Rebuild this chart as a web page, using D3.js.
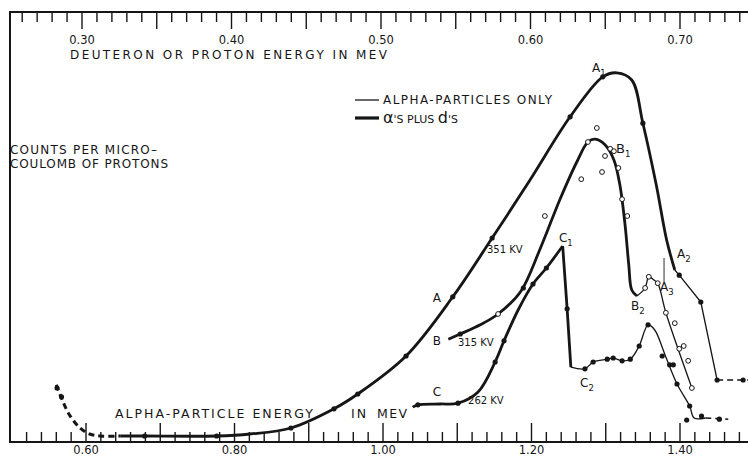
<!DOCTYPE html>
<html>
<head>
<meta charset="utf-8">
<script src="https://cdn.jsdelivr.net/npm/d3@7"></script>
<style>
  body { margin: 0; background: #fff; }
  svg { display: block; font-family: 'DejaVu Sans', sans-serif; }
</style>
</head>
<body>
<svg id="chart" width="748" height="457"></svg>
<script>
// Values: [alpha-particle energy (MeV), counts (relative)]

// curve A, 351 kV
const curveAStart = [[0.560, 12.8], [0.568, 9.0], [0.578, 5.2], [0.592, 2.0], [0.605, 0.5], [0.619, 0], [0.646, 0]];
const curveA = [[0.646, 0], [0.679, 0], [0.776, 0], [0.821, 0.5], [0.876, 2.0], [0.934, 6.8], [0.966, 10.5],
  [1.031, 20.0], [1.094, 34.8], [1.147, 49.5], [1.198, 64.0], [1.252, 79.8], [1.296, 89.8], [1.315, 90.8],
  [1.335, 89.0], [1.350, 78.2], [1.368, 62.8], [1.382, 49.0], [1.393, 41.5]];
const curveAThin = [[1.393, 41.5], [1.399, 40.2], [1.428, 33.5], [1.450, 14.0]];
const curveATail = [[1.450, 14.0], [1.494, 14.0]];
const dotsA = [[0.561, 12.0], [0.567, 9.8], [0.679, 0], [0.776, 0], [0.876, 2.0], [0.934, 6.8], [0.966, 10.5],
  [1.031, 20.0], [1.094, 34.8], [1.147, 49.5], [1.252, 79.8], [1.296, 89.8], [1.350, 78.2],
  [1.399, 40.2], [1.428, 33.5], [1.450, 14.0], [1.485, 14.0]];

// curve B, 315 kV
const curveB = [[1.088, 24.2], [1.104, 25.5], [1.131, 27.8], [1.155, 30.5], [1.185, 36.0], [1.211, 46.5],
  [1.238, 59.0], [1.261, 68.5], [1.276, 73.5], [1.286, 74.2], [1.299, 72.8], [1.311, 69.0], [1.319, 62.8],
  [1.326, 52.8], [1.331, 42.8], [1.335, 36.5], [1.342, 35.0]];
const curveBThin = [[1.342, 35.0], [1.353, 37.0], [1.358, 39.8], [1.365, 39.0], [1.370, 38.2], [1.381, 30.8], [1.416, 12.0]];
const openB = [[1.155, 30.5], [1.218, 55.0], [1.267, 64.2], [1.276, 73.5], [1.288, 77.0], [1.295, 66.0],
  [1.299, 70.0], [1.306, 71.8], [1.311, 71.2], [1.317, 67.0], [1.322, 59.2], [1.329, 55.0],
  [1.353, 37.0], [1.358, 39.8], [1.370, 38.2], [1.381, 30.8], [1.393, 28.2], [1.399, 21.8],
  [1.405, 22.5], [1.411, 18.8], [1.416, 12.0]];
const dotsB = [[1.104, 25.5], [1.189, 37.0]];

// curve C, 262 kV
const curveC = [[1.040, 7.2], [1.047, 7.8], [1.077, 8.0], [1.101, 8.2], [1.128, 11.0], [1.151, 18.5],
  [1.163, 23.8], [1.182, 31.5], [1.202, 38.0], [1.220, 42.0], [1.242, 47.5]];
const curveCDrop = [[1.242, 47.5], [1.248, 31.8], [1.253, 17.2]];
const curveCThin = [[1.253, 17.2], [1.272, 16.8], [1.283, 18.5], [1.302, 19.2], [1.310, 19.5], [1.322, 18.8],
  [1.333, 19.2], [1.345, 22.5], [1.357, 27.8], [1.366, 26.5], [1.380, 20.2], [1.396, 13.0], [1.413, 7.5],
  [1.419, 4.5], [1.434, 4.5]];
const curveCTail = [[1.434, 4.5], [1.465, 4.2]];
const dotsC = [[1.047, 7.8], [1.101, 8.2], [1.151, 18.5], [1.163, 23.8], [1.202, 38.0], [1.220, 42.0],
  [1.248, 31.8], [1.272, 16.8], [1.283, 18.5], [1.302, 19.2], [1.310, 19.5], [1.322, 18.8], [1.333, 19.2],
  [1.345, 22.5], [1.357, 27.8], [1.376, 20.0], [1.386, 17.8], [1.391, 17.8], [1.396, 13.0], [1.413, 7.5],
  [1.409, 4.0], [1.429, 5.0], [1.453, 4.2]];

// axes
const bottomTicks = d3.range(26, 75).map((i) => i / 50);   // every 0.02
const bottomLabels = [0.60, 0.80, 1.00, 1.20, 1.40];
const topTicks = d3.range(26, 75).map((i) => i / 100);     // every 0.01
const topLabels = [0.30, 0.40, 0.50, 0.60, 0.70];

// labels on the curves: [text, subscript, energy, counts]
const curveLabels = [
  ['A', '', 1.067, 33.5], ['B', '', 1.067, 22.75], ['C', '', 1.067, 10.0],
  ['A', '1', 1.2815, 91.0], ['B', '1', 1.3138, 70.75], ['B', '2', 1.334, 31.5],
  ['A', '2', 1.396, 44.5], ['A', '3', 1.373, 36.25], ['C', '1', 1.237, 48.5], ['C', '2', 1.2653, 12.25]
];
const voltLabels = [['351 KV', 1.140, 45.75], ['315 KV', 1.101, 22.5], ['262 KV', 1.1145, 8.0]];

(function() {
  let svg = d3.select('#chart');
  let ink = '#161616';

  let x = d3.scaleLinear().domain([0.6, 1.4]).range([86, 680]);
  let xTop = d3.scaleLinear().domain([0.3, 0.7]).range([82, 680]);
  let y = d3.scaleLinear().domain([0, 100]).range([436, 36]);

  let left = 10, top = 12, bottom = 442, right = 748;

  //
  // Frame
  //
  let frame = svg.append('g').attr('stroke', ink).attr('stroke-width', 2);
  frame.append('line').attr('x1', left).attr('x2', left).attr('y1', top - 1).attr('y2', bottom + 1);
  frame.append('line').attr('x1', left).attr('x2', right).attr('y1', top).attr('y2', top);
  frame.append('line').attr('x1', left).attr('x2', right).attr('y1', bottom).attr('y2', bottom);

  //
  // Bottom axis: alpha-particle energy
  //
  svg.append('g').selectAll('line')
    .data(bottomTicks)
    .enter().append('line')
      .attr('x1', (d) => x(d)).attr('x2', (d) => x(d))
      .attr('y1', bottom)
      .attr('y2', (d) => Math.round(d * 100) % 10 === 0 ? bottom - 19 : bottom - 10)
      .attr('stroke', ink).attr('stroke-width', 1.4);

  svg.append('g').selectAll('text')
    .data(bottomLabels)
    .enter().append('text')
      .attr('x', (d) => x(d)).attr('y', 454)
      .attr('text-anchor', 'middle')
      .attr('font-size', 11.5).attr('fill', ink)
      .text((d) => d.toFixed(2));

  //
  // Top axis: deuteron or proton energy
  //
  svg.append('g').selectAll('line')
    .data(topTicks)
    .enter().append('line')
      .attr('x1', (d) => xTop(d)).attr('x2', (d) => xTop(d))
      .attr('y1', top)
      .attr('y2', (d) => Math.round(d * 100) % 5 === 0 ? top + 17 : top + 10)
      .attr('stroke', ink).attr('stroke-width', 1.4);

  svg.append('g').selectAll('text')
    .data(topLabels)
    .enter().append('text')
      .attr('x', (d) => xTop(d)).attr('y', 44)
      .attr('text-anchor', 'middle')
      .attr('font-size', 11.5).attr('fill', ink)
      .text((d) => d.toFixed(2));

  let label = (txt, x0, y0, width, size) => svg.append('text')
    .attr('x', x0).attr('y', y0)
    .attr('font-size', size || 12).attr('fill', ink)
    .attr('textLength', width).attr('lengthAdjust', 'spacing')
    .text(txt);

  label('DEUTERON  OR  PROTON  ENERGY  IN  MEV', 70, 59, 317);
  label('ALPHA-PARTICLE  ENERGY', 115, 418, 198, 12.5);
  label('IN', 351, 418, 15, 12.5);
  label('MEV', 377, 418, 30, 12.5);
  label('COUNTS PER MICRO–', 10, 154, 147);
  label('COULOMB OF PROTONS', 10, 168, 158);

  //
  // Legend
  //
  svg.append('line').attr('x1', 355).attr('x2', 379).attr('y1', 100).attr('y2', 100)
    .attr('stroke', ink).attr('stroke-width', 1.3);
  svg.append('line').attr('x1', 355).attr('x2', 379).attr('y1', 118).attr('y2', 118)
    .attr('stroke', ink).attr('stroke-width', 3.2);
  label('ALPHA-PARTICLES ONLY', 383, 104, 169);
  let lg = svg.append('text').attr('x', 383).attr('y', 123).attr('fill', ink).attr('font-size', 12);
  lg.append('tspan').attr('font-size', 16).text('α');
  lg.append('tspan').attr('font-size', 11).text("'S  PLUS  ");
  lg.append('tspan').attr('font-size', 16).text('d');
  lg.append('tspan').attr('font-size', 11).text("'S");

  //
  // Curves
  //
  let smooth = d3.line().x((d) => x(d[0])).y((d) => y(d[1])).curve(d3.curveCatmullRom.alpha(0.5));
  let straight = d3.line().x((d) => x(d[0])).y((d) => y(d[1]));

  let path = (pts, gen, width, dash) => svg.append('path')
    .attr('d', gen(pts))
    .attr('fill', 'none')
    .attr('stroke', ink)
    .attr('stroke-width', width)
    .attr('stroke-linejoin', 'round')
    .attr('stroke-dasharray', dash || null);

  path(curveAStart, smooth, 3, '6,4');
  path(curveA, smooth, 2.8);
  path(curveAThin, straight, 1.3);
  path(curveATail, straight, 1.5, '6,4');

  path(curveB, smooth, 2.8);
  path(curveBThin, smooth, 1.3);

  path(curveC, smooth, 2.8);
  path(curveCDrop, straight, 2.8);
  path(curveCThin, smooth, 1.3);
  path(curveCTail, straight, 1.5, '6,4');

  // A3 pointer
  svg.append('line')
    .attr('x1', x(1.3785)).attr('x2', x(1.3785))
    .attr('y1', y(44.5)).attr('y2', y(38.5))
    .attr('stroke', ink).attr('stroke-width', 0.9);

  //
  // Points
  //
  svg.append('g').selectAll('circle')
    .data(dotsA.concat(dotsB, dotsC))
    .enter().append('circle')
      .attr('cx', (d) => x(d[0])).attr('cy', (d) => y(d[1]))
      .attr('r', 2.6).attr('fill', ink);

  svg.append('g').selectAll('circle')
    .data(openB)
    .enter().append('circle')
      .attr('cx', (d) => x(d[0])).attr('cy', (d) => y(d[1]))
      .attr('r', 2.4).attr('fill', '#fff')
      .attr('stroke', ink).attr('stroke-width', 1);

  //
  // Curve labels
  //
  let cl = svg.append('g').selectAll('text')
    .data(curveLabels)
    .enter().append('text')
      .attr('x', (d) => x(d[2])).attr('y', (d) => y(d[3]))
      .attr('font-size', (d) => d[0] === 'B' && d[1] === '1' ? 13 : 12)
      .attr('fill', ink);
  cl.append('tspan').text((d) => d[0]);
  cl.append('tspan')
    .attr('font-size', 8.5).attr('dy', 4)
    .text((d) => d[1]);

  svg.append('g').selectAll('text')
    .data(voltLabels)
    .enter().append('text')
      .attr('x', (d) => x(d[1])).attr('y', (d) => y(d[2]))
      .attr('font-size', 10).attr('fill', ink)
      .text((d) => d[0]);
})();
</script>
</body>
</html>
